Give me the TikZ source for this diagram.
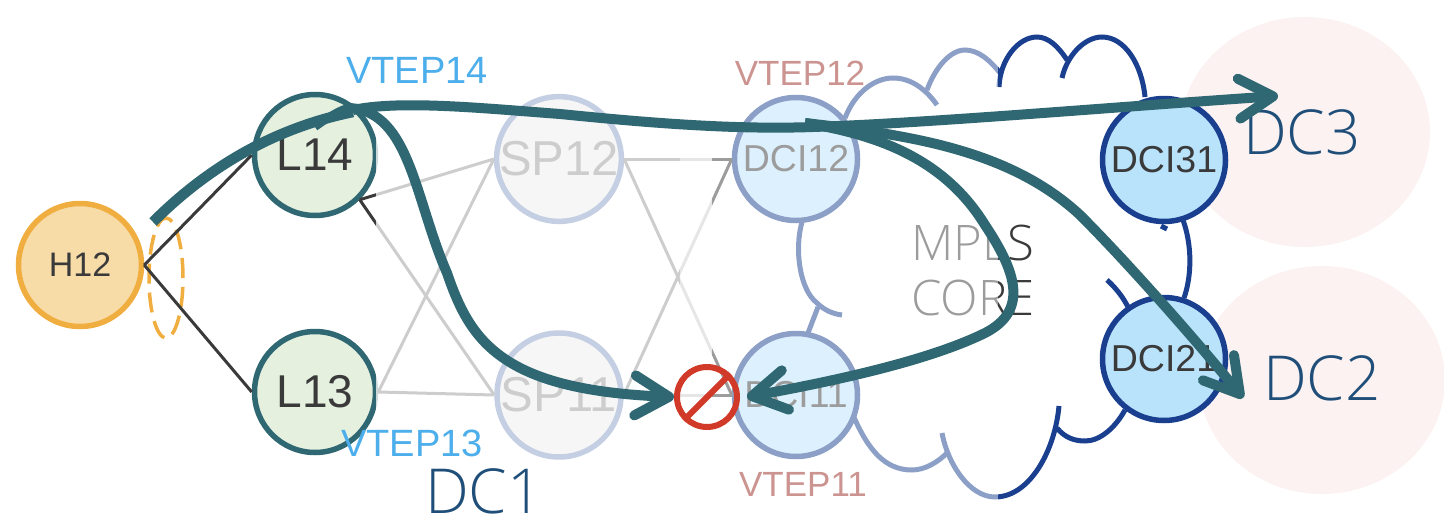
\documentclass[tikz,border=0pt]{standalone}
\usepackage{fontspec}
\setmainfont{Liberation Sans}
\newfontfamily\lightfont{Open Sans Light}
\usetikzlibrary{arrows.meta,shapes.geometric}
\definecolor{pathteal}{HTML}{2F6872}
\definecolor{cloudblue}{HTML}{1A3F8F}
\definecolor{dcifill}{HTML}{B9E2FB}
\definecolor{darkline}{HTML}{3A3A3A}
\definecolor{vtepblue}{HTML}{4DAEEC}
\definecolor{vtepred}{HTML}{992921}
\definecolor{dctext}{HTML}{1F4E79}
\definecolor{hostline}{HTML}{F0AE40}
\definecolor{hostfill}{HTML}{F7DCA8}
\definecolor{leaffill}{HTML}{E5F0DF}
\definecolor{zonefill}{HTML}{FCF2F2}
\definecolor{stopred}{HTML}{D13A28}
\tikzset{
  sw/.style={circle,line width=5.5pt,inner sep=0pt,text=darkline},
  host/.style={sw,draw=hostline,fill=hostfill,minimum size=123pt,font=\fontsize{34}{34}\selectfont},
  leaf/.style={sw,draw=pathteal,fill=leaffill,minimum size=121pt,font=\fontsize{46}{46}\selectfont},
  spine/.style={sw,draw=cloudblue,fill=black!14,minimum size=124pt,font=\fontsize{49}{49}\selectfont},
  dci/.style={sw,draw=cloudblue,fill=dcifill,minimum size=123pt,font=\fontsize{37.5}{37.5}\selectfont},
  dczone/.style={ellipse,fill=zonefill,inner sep=0pt},
  dclabel/.style={text=dctext,font=\lightfont\fontsize{62}{62}\selectfont},
  vtep/.style={font=\fontsize{38}{38}\selectfont},
  vtepdci/.style={text=vtepred,font=\fontsize{35}{35}\selectfont},
  link/.style={line width=3pt,darkline},
  cloudline/.style={line width=5pt,cloudblue},
  fadebox/.style={fill=white,opacity=.5},
  flow/.style={line width=10pt,pathteal,-{Straight Barb[length=34pt,width=40pt,round]}},
  flowstart/.style={line width=10.5pt,pathteal}
}
\begin{document}
\begin{tikzpicture}[x=1pt,y=-1pt]
	\useasboundingbox (0,0) rectangle (1444,530);
	% data centre zones
	\node[dczone,minimum width=250pt,minimum height=230pt] (zone3) at (1305,132) {};
	\node[dczone,minimum width=246pt,minimum height=228pt] (zone2) at (1322,380) {};
	\node[ellipse,draw=hostline,line width=3.5pt,dash pattern=on 20pt off 9pt,inner sep=0pt,minimum width=34pt,minimum height=120pt] (lag) at (166,278) {};
	% mpls cloud
	\draw[cloudline] (802,222) .. controls (794,250) and (800,290) .. (817,303) .. controls (824,310) and (833,314) .. (842,315);
	\draw[cloudline] (818,307) -- (808,333);
	\draw[cloudline] (853,415) .. controls (868,450) and (885,470) .. (912,470) .. controls (925,470) and (938,462) .. (947,453);
	\draw[cloudline] (942,433) .. controls (948,465) and (970,497) .. (995,497) .. controls (1030,497) and (1055,450) .. (1059,406);
	\draw[cloudline] (1057,428) .. controls (1065,438) and (1075,441) .. (1085,441) .. controls (1100,441) and (1115,428) .. (1125,410);
	\draw[cloudline] (1107,280) .. controls (1115,287) and (1123,297) .. (1128,307);
	\draw[cloudline] (1183,220) .. controls (1192,245) and (1192,275) .. (1184,298);
	\draw[cloudline] (1161,226) -- (1167,229);
	\draw[cloudline] (845,118) .. controls (855,92) and (875,78) .. (893,78) .. controls (910,78) and (925,88) .. (937,105);
	\draw[cloudline] (927,90) .. controls (935,68) and (950,50) .. (965,50) .. controls (978,50) and (990,60) .. (1000,73);
	\draw[cloudline] (999,87) .. controls (1000,60) and (1018,37) .. (1037,37) .. controls (1048,37) and (1058,46) .. (1067,60);
	\draw[cloudline] (1062,78) .. controls (1067,55) and (1085,37) .. (1102,37) .. controls (1125,37) and (1142,65) .. (1145,97);
	% switches
	\node[host] (h12) at (80,265) {H12};
	\node[leaf] (l14) at (315,155) {L14};
	\node[leaf] (l13) at (315,392) {L13};
	\node[spine] (sp12) at (559,159) {SP12};
	\node[spine] (sp11) at (559,395) {SP11};
	\node[dci] (dci12) at (796,159) {DCI12};
	\node[dci] (dci11) at (796,395) {DCI11};
	\node[dci] (dci31) at (1164,160) {DCI31};
	\node[dci] (dci21) at (1164,359) {DCI21};
	% links
	\draw[link] (h12.east) -- (l14.west);
	\draw[link] (h12.east) -- (l13.west);
	\draw[link] (l14.-45) -- (sp12.west);
	\draw[link] (l14.-45) -- (sp11.west);
	\draw[link] (l13.east) -- (sp12.west);
	\draw[link] (l13.east) -- (sp11.west);
	\draw[link] (sp12.east) -- (dci12.west);
	\draw[link] (sp12.east) -- (dci11.west);
	\draw[link] (sp11.east) -- (dci12.west);
	\draw[link] (sp11.east) -- (dci11.west);
	\node[text=darkline,align=left,font=\lightfont\fontsize{49}{55}\selectfont] (core) at (973,270) {MPLS\\CORE};
	\node[vtepdci] (vtep12) at (800,73) {VTEP12};
	\node[vtepdci] (vtep11) at (803,484) {VTEP11};
	% faded part of the fabric
	\fill[fadebox] (376,0) rectangle (998,530);
	\fill[fadebox] (376,0) rectangle (712,530);
	\fill[fadebox] (680,0) rectangle (712,530);
	\node[vtep,text=vtepblue] (vtep14) at (417,70) {VTEP14};
	\node[vtep,text=vtepblue] (vtep13) at (412,443) {VTEP13};
	\node[dclabel] (dc1) at (484,491) {DC1};
	\node[dclabel] (dc2) at (1322,378) {DC2};
	\node[dclabel] (dc3) at (1302,132) {DC3};
	% blocked marker
	\node[circle,draw=stopred,line width=6pt,inner sep=0pt,minimum size=60pt] (stop) at (707,397) {};
	\draw[stopred,line width=6pt] (stop.225) -- (stop.45);
	% traffic paths
	\coordinate (start) at (153,222);
	\coordinate (kink1) at (315,127);
	\coordinate (kink2) at (805,123);
	\coordinate (tip3) at (1278,96);
	\coordinate (tip2) at (1243,398);
	\coordinate (tip11) at (747,397);
	\draw[flowstart] (start) .. controls (200,175) and (265,130) .. (353,112);
	\draw[flow] (353,110) .. controls (400,100) and (480,108) .. (560,114) .. controls (640,122) and (730,130) .. (813,127) .. controls (930,123) and (1100,108) .. (tip3);
	\draw[flowstart,line width=8pt] (kink1) .. controls (325,120) and (340,108) .. (353,107);
	\draw[flow] (350,108) .. controls (410,112) and (415,200) .. (447,273) .. controls (470,340) and (500,390) .. (stop.west);
	\draw[flow] (kink2) .. controls (880,135) and (945,160) .. (985,225) .. controls (1015,270) and (1030,310) .. (985,333) .. controls (930,360) and (840,380) .. (tip11);
	\draw[flow] (kink2) .. controls (910,135) and (1010,150) .. (1080,215) .. controls (1130,265) and (1200,345) .. (tip2);
\end{tikzpicture}
\end{document}
